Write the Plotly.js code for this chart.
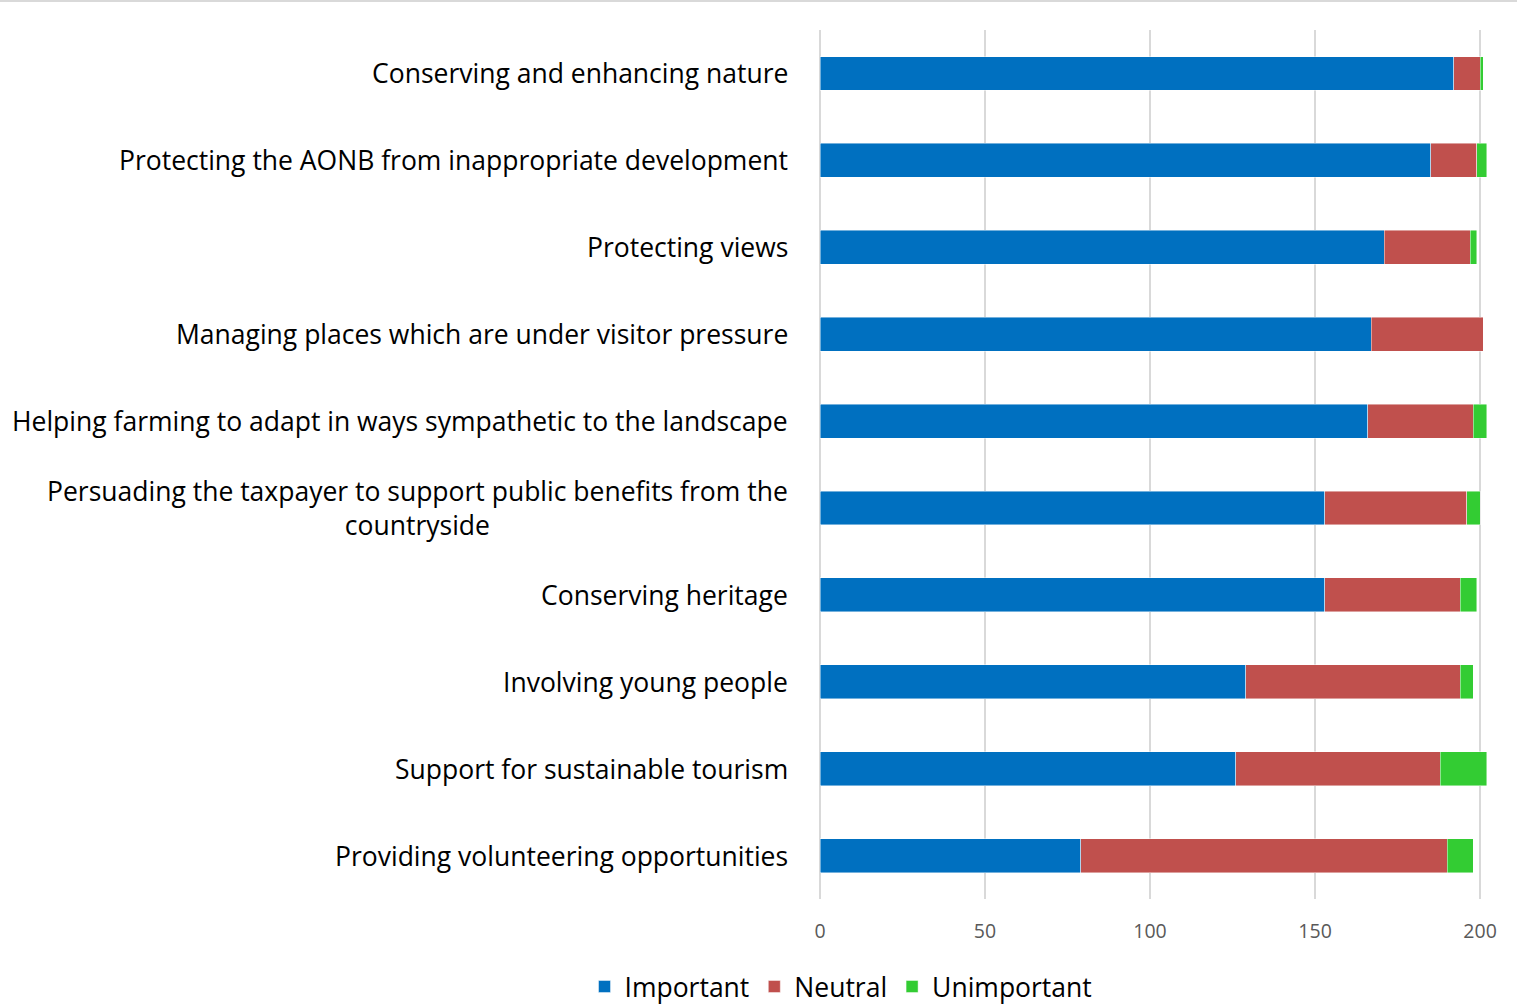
<!DOCTYPE html>
<html>
<head>
<meta charset="utf-8">
<script src="https://cdn.plot.ly/plotly-3.0.1.min.js"></script>
<style>html,body{margin:0;padding:0;background:#fff;}#chart{width:1517px;height:1004px;}</style>
</head>
<body>
<div id="chart"></div>
<script>
const categories = [
  "Conserving and enhancing nature",
  "Protecting the AONB from inappropriate development",
  "Protecting views",
  "Managing places which are under visitor pressure",
  "Helping farming to adapt in ways sympathetic to the landscape",
  "Persuading the taxpayer to support public benefits from the<br>countryside",
  "Conserving heritage",
  "Involving young people",
  "Support for sustainable tourism",
  "Providing volunteering opportunities"
];
const important   = [192, 185, 171, 167, 166, 153, 153, 129, 126, 79];
const neutral     = [8, 14, 26, 34, 32, 43, 41, 65, 62, 111];
const unimportant = [1, 3, 2, 0, 4, 4, 5, 4, 14, 8];
const xTicks = [0, 50, 100, 150, 200];

const font = "'Open Sans', sans-serif";
const lineStyle = {color: "rgba(255,255,255,0.6)", width: 0.75};

const traces = [
  {name: "Important", x: important, y: categories, type: "bar", orientation: "h",
   marker: {color: "#0070C0", line: lineStyle}, hoverinfo: "x+y"},
  {name: "Neutral", x: neutral, y: categories, type: "bar", orientation: "h",
   marker: {color: "#C0504D", line: lineStyle}, hoverinfo: "x+y"},
  {name: "Unimportant", x: unimportant, y: categories, type: "bar", orientation: "h",
   marker: {color: "#33CC33", line: lineStyle}, hoverinfo: "x+y"}
];

const annotations = categories.map(c => ({
  xref: "paper", yref: "y", x: 0, y: c, xanchor: "right", yanchor: "middle",
  xshift: -30, text: c, showarrow: false, align: "center",
  font: {family: font, size: 26.5, color: "#000"}
}));

const layout = {
  width: 1517, height: 1004,
  margin: {l: 820, r: 28, t: 30, b: 105, pad: 0, autoexpand: false},
  barmode: "stack",
  bargap: 0.61,
  paper_bgcolor: "#fff", plot_bgcolor: "#fff",
  font: {family: font},
  showlegend: true,
  legend: {orientation: "h", x: -0.352, xanchor: "left", y: -0.101, yanchor: "middle",
           font: {family: font, size: 26.5, color: "#000"}, traceorder: "normal",
           tracegroupgap: 0},
  xaxis: {range: [0, 202.7], tickvals: xTicks, ticktext: xTicks.map(String),
          showgrid: true, gridcolor: "#d9d9d9", gridwidth: 1.3,
          zeroline: true, zerolinecolor: "#d9d9d9", zerolinewidth: 1.3,
          showline: false, ticks: "", ticklabelstandoff: 18, automargin: false,
          tickfont: {family: font, size: 19.5, color: "#595959"}, fixedrange: true},
  yaxis: {autorange: "reversed", showticklabels: false, ticks: "", showgrid: false,
          zeroline: false, showline: false, fixedrange: true, automargin: false},
  annotations: annotations,
  shapes: [{type: "line", xref: "paper", yref: "paper",
            x0: -820/669, x1: (1517-820)/669, y0: 1 + 29/869, y1: 1 + 29/869,
            line: {color: "#d9d9d9", width: 2}}]
};

Plotly.newPlot("chart", traces, layout, {displayModeBar: false, staticPlot: true});
</script>
</body>
</html>
